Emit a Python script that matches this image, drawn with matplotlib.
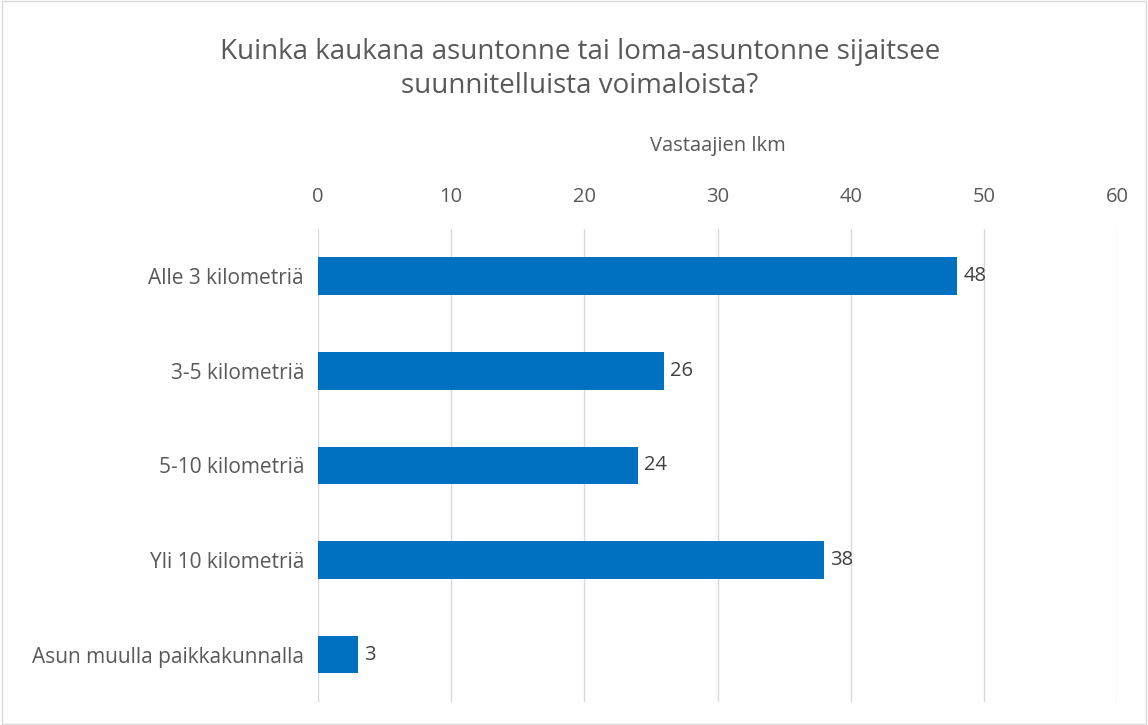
import matplotlib.pyplot as plt

categories = ["Alle 3 kilometriä", "3-5 kilometriä", "5-10 kilometriä",
              "Yli 10 kilometriä", "Asun muulla paikkakunnalla"]
values = [48, 26, 24, 38, 3]
xticks = [0, 10, 20, 30, 40, 50, 60]

plt.rcParams['font.family'] = ['Open Sans', 'DejaVu Sans']
txt = '#595959'

fig = plt.figure(figsize=(11.48, 7.25), dpi=100)
ax = fig.add_axes([0.277, 0.032, 0.696, 0.652])

ypos = list(range(len(categories)))
ax.barh(ypos, values, height=0.4, color='#0070C0', zorder=3)
for y, v in zip(ypos, values):
    ax.text(v + 0.45, y, str(v), va='center', ha='left', fontsize=14.5, color='#404040')

ax.set_ylim(len(categories) - 0.5, -0.5)
ax.set_yticks(ypos)
ax.set_yticklabels(categories, fontsize=15, color=txt)
ax.set_xlim(0, 60)
ax.set_xticks(xticks)
ax.set_xticklabels([str(t) for t in xticks], fontsize=14.5, color=txt)
ax.xaxis.tick_top()
ax.xaxis.set_label_position('top')
ax.set_xlabel('Vastaajien lkm', fontsize=14.5, color=txt, labelpad=26)
ax.tick_params(axis='y', length=0, pad=10)
ax.tick_params(axis='x', length=0, pad=16)
ax.grid(axis='x', color='#D9D9D9', linewidth=1, zorder=0)
for s in ax.spines.values():
    s.set_visible(False)

fig.text(0.505, 0.905, 'Kuinka kaukana asuntonne tai loma-asuntonne sijaitsee\nsuunnitelluista voimaloista?',
         ha='center', va='center', fontsize=20, color=txt, linespacing=1.3)

border = plt.Rectangle((0.002, 0.002), 0.996, 0.996, transform=fig.transFigure,
                       fill=False, edgecolor='#D9D9D9', linewidth=1)
fig.patches.append(border)

fig.savefig('out.png', dpi=100)
